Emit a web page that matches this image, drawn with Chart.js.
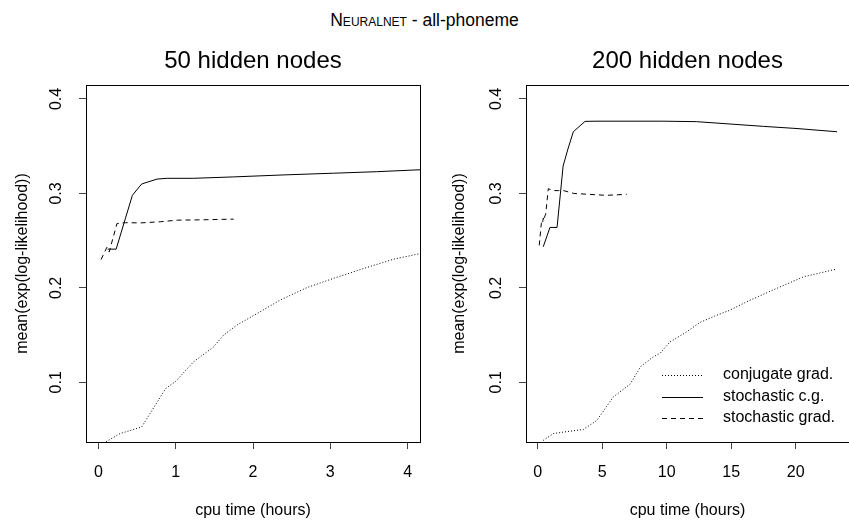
<!DOCTYPE html>
<html><head><meta charset="utf-8">
<script src="https://cdn.jsdelivr.net/npm/chart.js@4"></script>
<style>
html,body{margin:0;padding:0;background:#fff;width:849px;height:521px;overflow:hidden;position:relative;font-family:'Liberation Sans',Arial,Helvetica,sans-serif;}
#main{position:absolute;left:0;top:7px;width:849px;text-align:center;font-size:17.5px;line-height:26px;color:#000;white-space:nowrap;}
#main .sc{font-variant:small-caps;}
canvas{position:absolute;}
#c1{left:0;top:40px;}
#c2{left:430px;top:40px;}
</style></head><body>
<div id="main"><span class="sc">Neuralnet</span> - all-phoneme</div>
<canvas id="c1" width="430" height="481"></canvas>
<canvas id="c2" width="419" height="481"></canvas>
<script>
// ---- data ----
const SERIES_NAMES = ['conjugate grad.', 'stochastic c.g.', 'stochastic grad.'];
const PANEL_TITLES = ['50 hidden nodes', '200 hidden nodes'];
const Y_TICKS = [0.1, 0.2, 0.3, 0.4];
const X_TICKS_50 = [0, 1, 2, 3, 4];
const X_TICKS_200 = [0, 5, 10, 15, 20];

// 50 hidden nodes
const CG50_X  = [0.10, 0.28, 0.56, 0.87, 1.00, 1.23, 1.49, 1.62, 1.79, 2.09, 2.35, 2.70, 3.04, 3.43, 3.82, 4.17];
const CG50_Y  = [0.037, 0.0457, 0.0527, 0.0934, 0.101, 0.1216, 0.1375, 0.150, 0.1605, 0.1746, 0.187, 0.2004, 0.210, 0.2205, 0.2304, 0.2364];
const SCG50_X = [0.12, 0.23, 0.44, 0.56, 0.76, 0.89, 1.23, 1.75, 2.40, 3.04, 3.60, 4.20];
const SCG50_Y = [0.241, 0.241, 0.298, 0.310, 0.3152, 0.316, 0.316, 0.3175, 0.3196, 0.3214, 0.323, 0.3252];
const SG50_X  = [0.035, 0.11, 0.14, 0.24, 0.35, 0.55, 0.80, 1.02, 1.30, 1.75];
const SG50_Y  = [0.230, 0.243, 0.238, 0.268, 0.269, 0.2688, 0.270, 0.2717, 0.272, 0.2728];

// 200 hidden nodes
const CG200_X  = [0.43, 1.21, 2.25, 3.53, 4.57, 5.86, 7.16, 8.00, 8.96, 9.48, 10.26, 11.5, 12.58, 13.7, 14.9, 16.46, 18.5, 20.6, 23.05];
const CG200_Y  = [0.0385, 0.0457, 0.0478, 0.050, 0.0594, 0.0845, 0.098, 0.117, 0.127, 0.1307, 0.1428, 0.153, 0.1634, 0.170, 0.1764, 0.187, 0.1993, 0.2117, 0.2195];
const SCG200_X = [0.43, 0.95, 1.50, 1.97, 2.32, 2.76, 3.67, 4.60, 9.70, 12.3, 14.9, 17.5, 20.1, 23.2];
const SCG200_Y = [0.2435, 0.264, 0.264, 0.329, 0.346, 0.3653, 0.3763, 0.3765, 0.3765, 0.376, 0.3735, 0.371, 0.3687, 0.3653];
const SG200_X  = [0.12, 0.28, 0.45, 0.38, 0.62, 0.82, 1.20, 1.60, 2.00, 2.80, 4.00, 5.30, 6.90];
const SG200_Y  = [0.245, 0.268, 0.274, 0.270, 0.278, 0.305, 0.303, 0.303, 0.303, 0.300, 0.299, 0.298, 0.299];

// ---- rendering ----
const FONT = "'Liberation Sans', Arial, Helvetica, sans-serif";
Chart.defaults.font.family = FONT;
Chart.defaults.color = '#000';

const pts = (xs, ys) => xs.map((x, i) => ({x: x, y: ys[i]}));
const DASHES = [[1, 2], [], [5, 4]];

function datasets(series) {
  return series.map((s, i) => ({
    label: SERIES_NAMES[i],
    data: pts(s[0], s[1]),
    borderColor: '#000',
    borderWidth: 1,
    borderDash: DASHES[i],
    pointRadius: 0,
    tension: 0,
    fill: false
  }));
}

const boxPlugin = {
  id: 'rbox',
  afterDatasetsDraw(chart) {
    const {ctx, chartArea: a} = chart;
    ctx.save();
    ctx.strokeStyle = '#000';
    ctx.lineWidth = 1;
    ctx.setLineDash([]);
    ctx.strokeRect(a.left + 0.5, a.top + 0.5, a.right - a.left, a.bottom - a.top);
    ctx.restore();
  }
};

const legendPlugin = {
  id: 'rlegend',
  afterDraw(chart, args, opts) {
    if (!opts || !opts.show) return;
    const {ctx, chartArea: a} = chart;
    ctx.save();
    ctx.font = '16px ' + FONT;
    ctx.textBaseline = 'middle';
    ctx.textAlign = 'left';
    chart.data.datasets.forEach((ds, i) => {
      const y = a.bottom + opts.rows[i];
      ctx.strokeStyle = ds.borderColor;
      ctx.lineWidth = ds.borderWidth;
      ctx.setLineDash(ds.borderDash || []);
      ctx.beginPath();
      ctx.moveTo(a.right + opts.lineX0, Math.round(y) + 0.5);
      ctx.lineTo(a.right + opts.lineX1, Math.round(y) + 0.5);
      ctx.stroke();
      ctx.setLineDash([]);
      ctx.fillStyle = '#000';
      ctx.fillText(ds.label, a.right + opts.textX, y);
    });
    ctx.restore();
  }
};

function makeChart(id, cfg) {
  const gridOpts = {drawOnChartArea: false, drawTicks: true, tickLength: 7, color: '#444', lineWidth: 1};
  return new Chart(document.getElementById(id), {
    type: 'line',
    data: {datasets: datasets(cfg.series)},
    plugins: [boxPlugin, legendPlugin],
    options: {
      responsive: false,
      animation: false,
      events: [],
      layout: {padding: {top: 0, left: 0, bottom: 0, right: cfg.padRight}},
      plugins: {
        legend: {display: false},
        tooltip: {enabled: false},
        title: {
          display: true, text: cfg.title, fullSize: false, color: '#000',
          font: {size: 24, weight: 'normal', family: FONT},
          padding: {top: 7.3, bottom: 8.9}
        },
        rlegend: cfg.legend
      },
      scales: {
        x: {
          type: 'linear', min: cfg.xMin, max: cfg.xMax,
          afterBuildTicks: s => { s.ticks = cfg.xTicks.map(v => ({value: v})); },
          afterFit: s => { s.height = 79; },
          ticks: {maxRotation: 0, minRotation: 0, autoSkip: false, padding: 14, font: {size: 16}, color: '#000', callback: v => String(v)},
          grid: gridOpts,
          border: {display: false},
          title: {display: true, text: 'cpu time (hours)', font: {size: 16}, color: '#000', padding: {top: 0, bottom: 1}}
        },
        y: {
          type: 'linear', min: 0.0368, max: 0.4148,
          afterBuildTicks: s => { s.ticks = Y_TICKS.map(v => ({value: v})); },
          afterFit: s => { s.width = cfg.yWidth; },
          ticks: {minRotation: 90, maxRotation: 90, crossAlign: 'center', padding: 11, font: {size: 16}, color: '#000', callback: v => String(v)},
          grid: gridOpts,
          border: {display: false},
          title: {display: true, text: 'mean(exp(log-likelihood))', font: {size: 16}, color: '#000', padding: {top: cfg.yTitlePad, bottom: 0}}
        }
      }
    }
  });
}

makeChart('c1', {
  title: PANEL_TITLES[0],
  series: [[CG50_X, CG50_Y], [SCG50_X, SCG50_Y], [SG50_X, SG50_Y]],
  xTicks: X_TICKS_50, xMin: -0.16, xMax: 4.16,
  yWidth: 86, yTitlePad: 13.4, padRight: 10,
  legend: {show: false}
});

makeChart('c2', {
  title: PANEL_TITLES[1],
  series: [[CG200_X, CG200_Y], [SCG200_X, SCG200_Y], [SG200_X, SG200_Y]],
  xTicks: X_TICKS_200, xMin: -0.907, xMax: 24.13,
  yWidth: 96, yTitlePad: 20.4, padRight: 0,
  legend: {show: true, rows: [-67, -45.5, -24], lineX0: -187, lineX1: -146, textX: -126}
});
</script>
</body></html>
